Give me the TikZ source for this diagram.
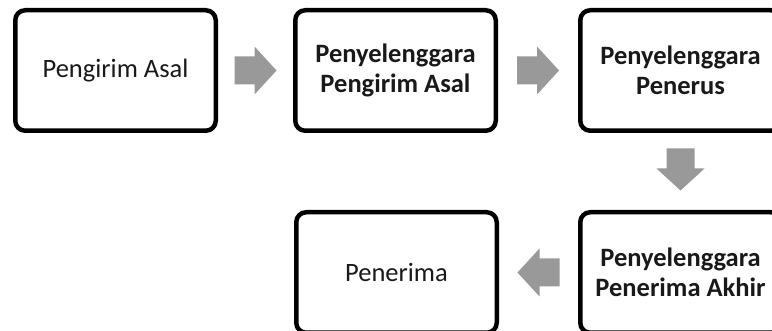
\documentclass[tikz,border=0pt]{standalone}
\usepackage{fontspec}
\setmainfont{Carlito}
\usetikzlibrary{calc}
\tikzset{
  stagebox/.style={draw=black, line width=4.5pt, rounded corners=10pt, minimum width=200.5pt, minimum height=120.5pt, align=center, inner sep=0pt, font=\fontsize{26.5}{30}\selectfont, text=black!90},
  flowarrow/.style={fill=black!40, draw=none}
}
\newcommand{\blockarrow}[2]{%
  \fill[flowarrow, shift={(#1)}, rotate=#2]
    (-21,-14) -- (-1,-14) -- (-1,-24) -- (21,0) -- (-1,24) -- (-1,14) -- (-21,14) -- cycle;}
\begin{document}
\begin{tikzpicture}[x=1pt,y=-1pt]
\useasboundingbox (0,0) rectangle (772,331);
\clip (0,0) rectangle (772,331);
\fill[white] (0,0) rectangle (772,331);
\node[stagebox] (b1) at (115.5,70.5) {Pengirim Asal};
\node[stagebox] (b2) at (395.5,70.5) {\bfseries Penyelenggara\\\bfseries Pengirim Asal};
\node[stagebox] (b3) at (680.5,70.5) {\bfseries Penyelenggara\\\bfseries Penerus};
\node[stagebox] (b5) at (680.5,272.5) {\bfseries Penyelenggara\\\bfseries Penerima Akhir};
\node[stagebox] (b4) at (396.5,272.5) {Penerima};
\coordinate (a1) at ($(b1.east)!0.5!(b2.west)$);
\coordinate (a2) at ($(b2.east)!0.5!(b3.west)$);
\coordinate (a3) at ($(b3.south)!0.5!(b5.north) + (0,-2)$);
\coordinate (a4) at ($(b5.west)!0.5!(b4.east)$);
\blockarrow{a1}{0}
\blockarrow{a2}{0}
\blockarrow{a3}{-90}
\blockarrow{a4}{180}
\end{tikzpicture}
\end{document}
